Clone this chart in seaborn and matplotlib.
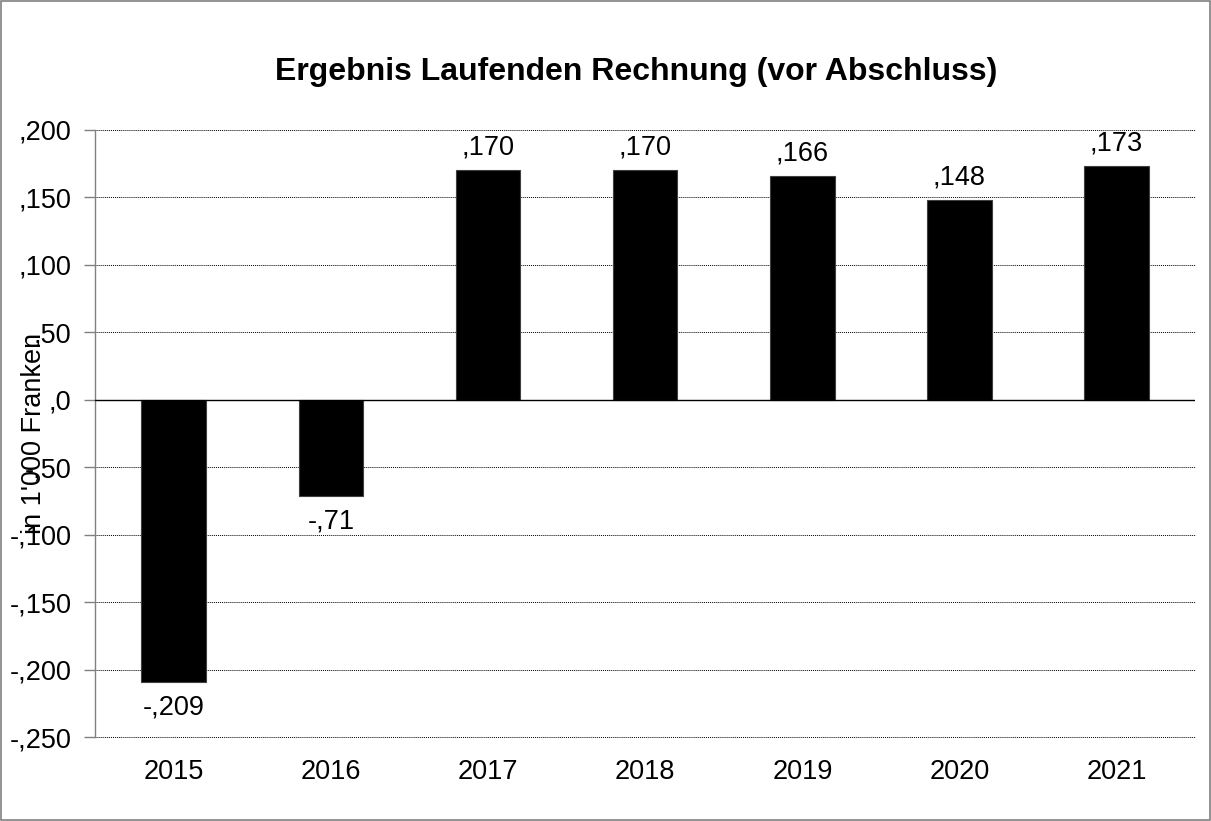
import matplotlib
matplotlib.use("Agg")
import matplotlib.pyplot as plt
import seaborn as sns
import pandas as pd
from matplotlib.ticker import FuncFormatter, MultipleLocator

years = ["2015", "2016", "2017", "2018", "2019", "2020", "2021"]
values = [-209, -71, 170, 170, 166, 148, 173]
title = "Ergebnis Laufenden Rechnung (vor Abschluss)"
ylabel = "in 1'000 Franken"


def fmt(v, pos=None):
    v = int(round(v))
    return f"-,{abs(v)}" if v < 0 else f",{v}"


sns.set_style("white")
plt.rcParams["font.family"] = ["Liberation Sans", "DejaVu Sans"]
plt.rcParams["text.color"] = "black"
plt.rcParams["xtick.color"] = "black"
plt.rcParams["ytick.color"] = "black"
plt.rcParams["axes.labelcolor"] = "black"

df = pd.DataFrame({"year": years, "value": values})

fig = plt.figure(figsize=(12.11, 8.21), dpi=100)
ax = fig.add_axes([0.0785, 0.1023, 0.9085, 0.7394])

sns.barplot(data=df, x="year", y="value", color="black", width=0.41,
            edgecolor="#404040", linewidth=0.8, saturation=1, ax=ax, zorder=3)

ax.set_ylim(-250, 200)
ax.set_xlim(-0.5, len(years) - 0.5)
ax.yaxis.set_major_locator(MultipleLocator(50))
ax.yaxis.set_major_formatter(FuncFormatter(fmt))
ax.grid(False)
for t in range(-250, 201, 50):
    if t != 0:
        ax.axhline(t, color="black", linestyle=(0, (1, 1)), linewidth=0.7,
                   zorder=0, clip_on=False)
ax.axhline(0, color="black", linewidth=1.0, zorder=4)

for s in ["top", "right", "bottom"]:
    ax.spines[s].set_visible(False)
ax.spines["left"].set_color("#808080")
ax.spines["left"].set_linewidth(1.0)

ax.tick_params(axis="y", which="major", left=True, length=8, width=1,
               color="#808080", labelcolor="black", labelsize=19.5, pad=9)
ax.tick_params(axis="x", length=0, labelsize=19.5, labelcolor="black", pad=16)
ax.set_xlabel("")
ax.set_ylabel(ylabel, fontsize=19.5)
ax.yaxis.set_label_coords(-0.044, 0.5)

for i, v in enumerate(values):
    if v >= 0:
        ax.annotate(fmt(v), (i, v), xytext=(0, 7), textcoords="offset points",
                    ha="center", va="bottom", fontsize=19.5, color="black")
    else:
        ax.annotate(fmt(v), (i, v), xytext=(0, -9), textcoords="offset points",
                    ha="center", va="top", fontsize=19.5, color="black")

fig.suptitle(title, fontsize=23, fontweight="bold", x=0.525, y=0.93, color="black")

border = plt.Rectangle((0.001, 0.001), 0.998, 0.998, transform=fig.transFigure,
                       fill=False, edgecolor="#808080", linewidth=1.2)
fig.patches.append(border)

fig.savefig("out.png", dpi=100)
